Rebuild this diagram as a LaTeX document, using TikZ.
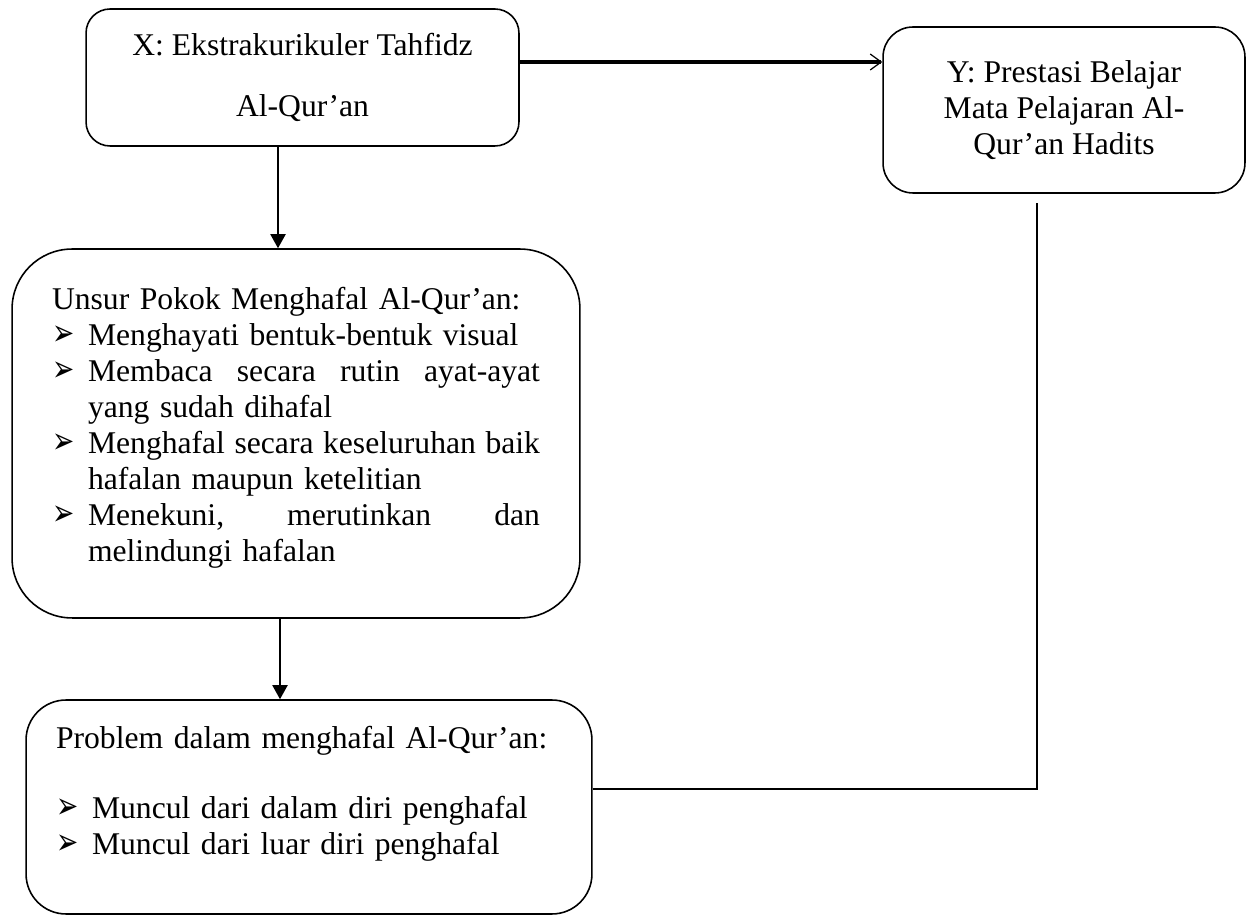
\documentclass[tikz,border=0pt]{standalone}
\usepackage{fontspec}
\setmainfont{Liberation Serif}
\newfontfamily\panahfont{DejaVu Sans}
\usetikzlibrary{positioning,arrows.meta,shapes}
\newcommand{\butir}{\makebox[0.72cm][l]{\scalebox{0.72}[1]{\fontsize{21pt}{21pt}\panahfont ➢}}}
\newcommand{\sisa}{\hspace*{0.72cm}}

\begin{document}
\begin{tikzpicture}
		[x=0.02cm, y=-0.02cm,
		font=\fontsize{18pt}{20.5pt}\selectfont,
		box/.style={rectangle, draw, line width=0.9pt, inner sep=0pt},
		tip/.style={-{Triangle[length=0.28cm,width=0.3cm]}, line width=1.1pt},
		open/.style={-{Straight Barb[length=0.22cm,width=0.32cm,line width=0.7pt]}, line width=1.8pt},
		]
		\useasboundingbox (0,0) rectangle (1249,918);
		
		\node[box, rounded corners=0.48cm, minimum width=8.66cm, minimum height=2.74cm, align=center] (X) at (302.5,77.5)
			{X: Ekstrakurikuler Tahfidz\\[0.5cm]Al-Qur’an};
		\node[box, rounded corners=0.6cm, minimum width=7.24cm, minimum height=3.32cm, align=center] (Y) at (1064,110)
			{Y: Prestasi Belajar\\Mata Pelajaran Al-\\Qur’an Hadits};
		\node[box, rounded corners=1.2cm, minimum width=11.36cm, minimum height=7.38cm, text width=9.76cm, align=left] (U) at (296,433.5)
			{Unsur Pokok Menghafal Al-Qur’an:\\
			\butir Menghayati bentuk-bentuk visual\\
			\butir\makebox[9.04cm][s]{Membaca\hfill secara\hfill rutin\hfill ayat-ayat}\\
			\sisa yang sudah dihafal\\
			\butir\makebox[9.04cm][s]{Menghafal\hfill secara\hfill keseluruhan\hfill baik}\\
			\sisa hafalan maupun ketelitian\\
			\butir\makebox[9.04cm][s]{Menekuni,\hfill merutinkan\hfill dan}\\
			\sisa melindungi hafalan\rule[-0.38cm]{0pt}{0pt}};
		\node[box, rounded corners=0.8cm, minimum width=11.32cm, minimum height=4.28cm, text width=10.12cm, align=left] (P) at (309,807)
			{Problem dalam menghafal Al-Qur’an:\\[0.68cm]
			\butir Muncul dari dalam diri penghafal\\
			\butir Muncul dari luar diri penghafal\rule[-0.66cm]{0pt}{0pt}};
		
		% connectors
		\draw[open] ([yshift=0.31cm]X.east) -- ([yshift=0.31cm]X.east -| Y.west);
		\draw[tip] ([xshift=-0.49cm]X.south) -- ([xshift=-0.49cm]X.south |- U.north);
		\draw[tip] ([xshift=-0.32cm]U.south) -- ([xshift=-0.32cm]U.south |- P.north);
		\draw[line width=1.3pt] ([yshift=0.36cm]P.east) -| ([xshift=-0.54cm,yshift=-0.18cm]Y.south);
		
\end{tikzpicture}
\end{document}
